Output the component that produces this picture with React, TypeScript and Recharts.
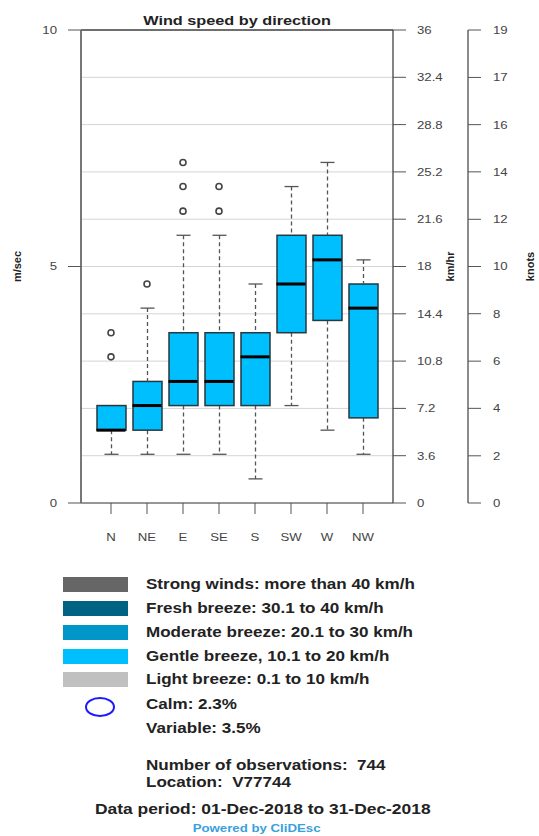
import React from 'react';
import { ComposedChart, Bar, Scatter, XAxis, YAxis, CartesianGrid, ReferenceLine } from 'recharts';

// Box-plot statistics (m/sec) per wind direction
const directions = ['N', 'NE', 'E', 'SE', 'S', 'SW', 'W', 'NW'];
const whiskerLow = [1.03, 1.03, 1.03, 1.03, 0.51, 2.06, 1.54, 1.03];
const quartile1 = [1.54, 1.54, 2.06, 2.06, 2.06, 3.6, 3.86, 1.8];
const medians = [1.54, 2.06, 2.57, 2.57, 3.09, 4.63, 5.14, 4.12];
const quartile3 = [2.06, 2.57, 3.6, 3.6, 3.6, 5.66, 5.66, 4.63];
const whiskerHigh = [2.06, 4.12, 5.66, 5.66, 4.63, 6.69, 7.2, 5.14];

// Outliers
const outlierDirections = ['N', 'N', 'NE', 'E', 'E', 'E', 'SE', 'SE'];
const outlierValues = [3.09, 3.6, 4.63, 6.17, 6.69, 7.2, 6.17, 6.69];

// Axis ticks
const msTicks = [0, 5, 10];
const kmhTicks = [0, 3.6, 7.2, 10.8, 14.4, 18, 21.6, 25.2, 28.8, 32.4, 36];
const knotTicks = [0, 1.94, 3.89, 5.83, 7.78, 9.72, 11.66, 13.61, 15.55, 17.49, 19.44];

// Legend
const legendLabels = [
  'Strong winds: more than 40 km/h',
  'Fresh breeze: 30.1 to 40 km/h',
  'Moderate breeze: 20.1 to 30 km/h',
  'Gentle breeze, 10.1 to 20 km/h',
  'Light breeze: 0.1 to 10 km/h',
];
const legendColors = ['#666666', '#006384', '#0096c8', '#00bfff', '#c0c0c0'];
const calmText = 'Calm: 2.3%';
const variableText = 'Variable: 3.5%';
const obsText = 'Number of observations:  744';
const locationText = 'Location:  V77744';
const periodText = 'Data period: 01-Dec-2018 to 31-Dec-2018';
const poweredText = 'Powered by CliDEsc';

const data = directions.map((dir, i) => ({
  dir,
  base: whiskerLow[i],
  lower: quartile1[i] - whiskerLow[i],
  box: quartile3[i] - quartile1[i],
  upper: whiskerHigh[i] - quartile3[i],
  median: medians[i],
}));

const outlierData = outlierDirections.map((dir, i) => ({ dir, value: outlierValues[i] }));

const FONT = '"Liberation Sans", Arial, sans-serif';
const CAP = 7;
const STRETCH = 1.2;

const LowerWhisker = (p: any) => {
  const { x, y, width, height } = p;
  if (!height || height <= 0) return null;
  const cx = x + width / 2;
  return (
    <g>
      <line x1={cx} x2={cx} y1={y} y2={y + height} stroke="#555" strokeWidth={1.3} strokeDasharray="4 3" />
      <line x1={cx - CAP} x2={cx + CAP} y1={y + height} y2={y + height} stroke="#555" strokeWidth={1.3} />
    </g>
  );
};

const UpperWhisker = (p: any) => {
  const { x, y, width, height } = p;
  if (!height || height <= 0) return null;
  const cx = x + width / 2;
  return (
    <g>
      <line x1={cx} x2={cx} y1={y} y2={y + height} stroke="#555" strokeWidth={1.3} strokeDasharray="4 3" />
      <line x1={cx - CAP} x2={cx + CAP} y1={y} y2={y} stroke="#555" strokeWidth={1.3} />
    </g>
  );
};

const BoxShape = (p: any) => {
  const { x, y, width, height } = p;
  return <rect x={x} y={y} width={width} height={height} fill="#00bfff" stroke="#263840" strokeWidth={1.5} />;
};

const MedianShape = (p: any) => {
  const { cx, cy } = p;
  return <line x1={cx - 14.5} x2={cx + 14.5} y1={cy} y2={cy} stroke="#000" strokeWidth={3} />;
};

const OutlierShape = (p: any) => {
  const { cx, cy } = p;
  return <circle cx={cx} cy={cy} r={3} fill="none" stroke="#444" strokeWidth={1.6} />;
};

const Hidden = () => null;

const StretchTick = (props: any) => {
  const { x, y, payload, textAnchor, kind, fmt } = props;
  const value = fmt ? fmt(payload.value) : String(payload.value);
  const dy = kind === 'x' ? '0.71em' : '0.355em';
  return (
    <g transform={`translate(${x},${y}) scale(${STRETCH},1)`}>
      <text x={0} y={0} dy={dy} textAnchor={textAnchor} fontFamily={FONT} fontSize={11} fill="#444">{value}</text>
    </g>
  );
};

const axisLabel = (text: string, dx: number) => (props: any) => {
  const vb = props.viewBox;
  const x = vb.x + dx;
  const y = vb.y + vb.height / 2;
  return (
    <text x={x} y={y} transform={`rotate(-90, ${x}, ${y})`} textAnchor="middle" dominantBaseline="middle"
      fontFamily={FONT} fontWeight="bold" fontSize={11} fill="#222">{text}</text>
  );
};

const textStyle: React.CSSProperties = {
  position: 'absolute',
  fontFamily: FONT,
  fontWeight: 'bold',
  fontSize: 14.5,
  color: '#222',
  whiteSpace: 'pre',
  lineHeight: '18px',
  transform: 'scaleX(1.175)',
  transformOrigin: 'left center',
};

export default function App() {
  const rowCenters = [584, 608, 632, 656, 679];
  return (
    <div style={{ position: 'absolute', left: 0, top: 0, width: 539, height: 836, background: '#fff', overflow: 'hidden' }}>
      <div style={{ position: 'absolute', left: 0, top: 11, width: 474, textAlign: 'center' }}>
        <span style={{ display: 'inline-block', fontFamily: FONT, fontWeight: 'bold', fontSize: 13, color: '#222', transform: 'scaleX(1.25)' }}>
          Wind speed by direction
        </span>
      </div>
      <ComposedChart width={539} height={550} data={data} margin={{ top: 30, right: 21, bottom: 7, left: 0 }}>
        <CartesianGrid yAxisId="kmh" vertical={false} stroke="#d4d4d4" strokeWidth={1} />
        <XAxis dataKey="dir" type="category" allowDuplicatedCategory={false} padding={{ left: 12, right: 12 }}
          height={40} tickSize={11} tickMargin={19} tick={<StretchTick kind="x" />} stroke="#444" tickLine={{ stroke: '#555' }} />
        <YAxis yAxisId="left" orientation="left" width={81} domain={[0, 10]} ticks={msTicks} type="number"
          tickSize={13} tickMargin={11} tick={<StretchTick kind="y" />} axisLine={{ stroke: '#777', strokeWidth: 2 }}
          tickLine={{ stroke: '#555' }} label={{ content: axisLabel('m/sec', 18) }} />
        <YAxis yAxisId="kmh" orientation="right" width={75} domain={[0, 36]} ticks={kmhTicks} type="number"
          tickSize={13} tickMargin={11} tick={<StretchTick kind="y" />} axisLine={{ stroke: '#333', strokeWidth: 1.2 }}
          tickLine={{ stroke: '#555' }} label={{ content: axisLabel('km/hr', 58) }} />
        <YAxis yAxisId="kn" orientation="right" width={50} domain={[0, 19.44]} ticks={knotTicks} type="number"
          tickSize={13} tickMargin={12} tick={<StretchTick kind="y" fmt={(v: number) => String(Math.round(v))} />}
          axisLine={{ stroke: '#666', strokeWidth: 1.5 }} tickLine={{ stroke: '#555' }}
          label={{ content: axisLabel('knots', 63) }} />
        <ReferenceLine yAxisId="left" y={10} stroke="#444" strokeWidth={1.3} />
        <Bar yAxisId="left" dataKey="base" stackId="bp" barSize={29} fill="none" isAnimationActive={false} shape={Hidden} />
        <Bar yAxisId="left" dataKey="lower" stackId="bp" barSize={29} isAnimationActive={false} shape={LowerWhisker} />
        <Bar yAxisId="left" dataKey="box" stackId="bp" barSize={29} isAnimationActive={false} shape={BoxShape} />
        <Bar yAxisId="left" dataKey="upper" stackId="bp" barSize={29} isAnimationActive={false} shape={UpperWhisker} />
        <Scatter yAxisId="kmh" dataKey="median" isAnimationActive={false} shape={Hidden} />
        <Scatter yAxisId="kn" dataKey="median" isAnimationActive={false} shape={Hidden} />
        <Scatter yAxisId="left" dataKey="median" isAnimationActive={false} shape={MedianShape} />
        <Scatter yAxisId="left" data={outlierData} dataKey="value" isAnimationActive={false} shape={OutlierShape} />
      </ComposedChart>

      {legendLabels.map((label, i) => (
        <React.Fragment key={label}>
          <div style={{ position: 'absolute', left: 63, top: rowCenters[i] - 7, width: 65, height: 15, background: legendColors[i] }} />
          <div style={{ ...textStyle, left: 146, top: rowCenters[i] - 9 }}>{label}</div>
        </React.Fragment>
      ))}
      <svg style={{ position: 'absolute', left: 80, top: 694 }} width={40} height={26}>
        <ellipse cx={20} cy={13} rx={14} ry={9} fill="none" stroke="#1a1aff" strokeWidth={2} />
      </svg>
      <div style={{ ...textStyle, left: 146, top: 695 }}>{calmText}</div>
      <div style={{ ...textStyle, left: 146, top: 719 }}>{variableText}</div>
      <div style={{ ...textStyle, left: 146, top: 756 }}>{obsText}</div>
      <div style={{ ...textStyle, left: 146, top: 773 }}>{locationText}</div>
      <div style={{ ...textStyle, left: 95, top: 800, transform: 'scaleX(1.2)' }}>{periodText}</div>
      <div style={{ position: 'absolute', left: 0, width: 514, top: 820, textAlign: 'center', lineHeight: '14px' }}>
        <span style={{ display: 'inline-block', fontFamily: FONT, fontWeight: 'bold', fontSize: 11.5, color: '#3aa0dc', transform: 'scaleX(1.15)' }}>{poweredText}</span>
      </div>
    </div>
  );
}
